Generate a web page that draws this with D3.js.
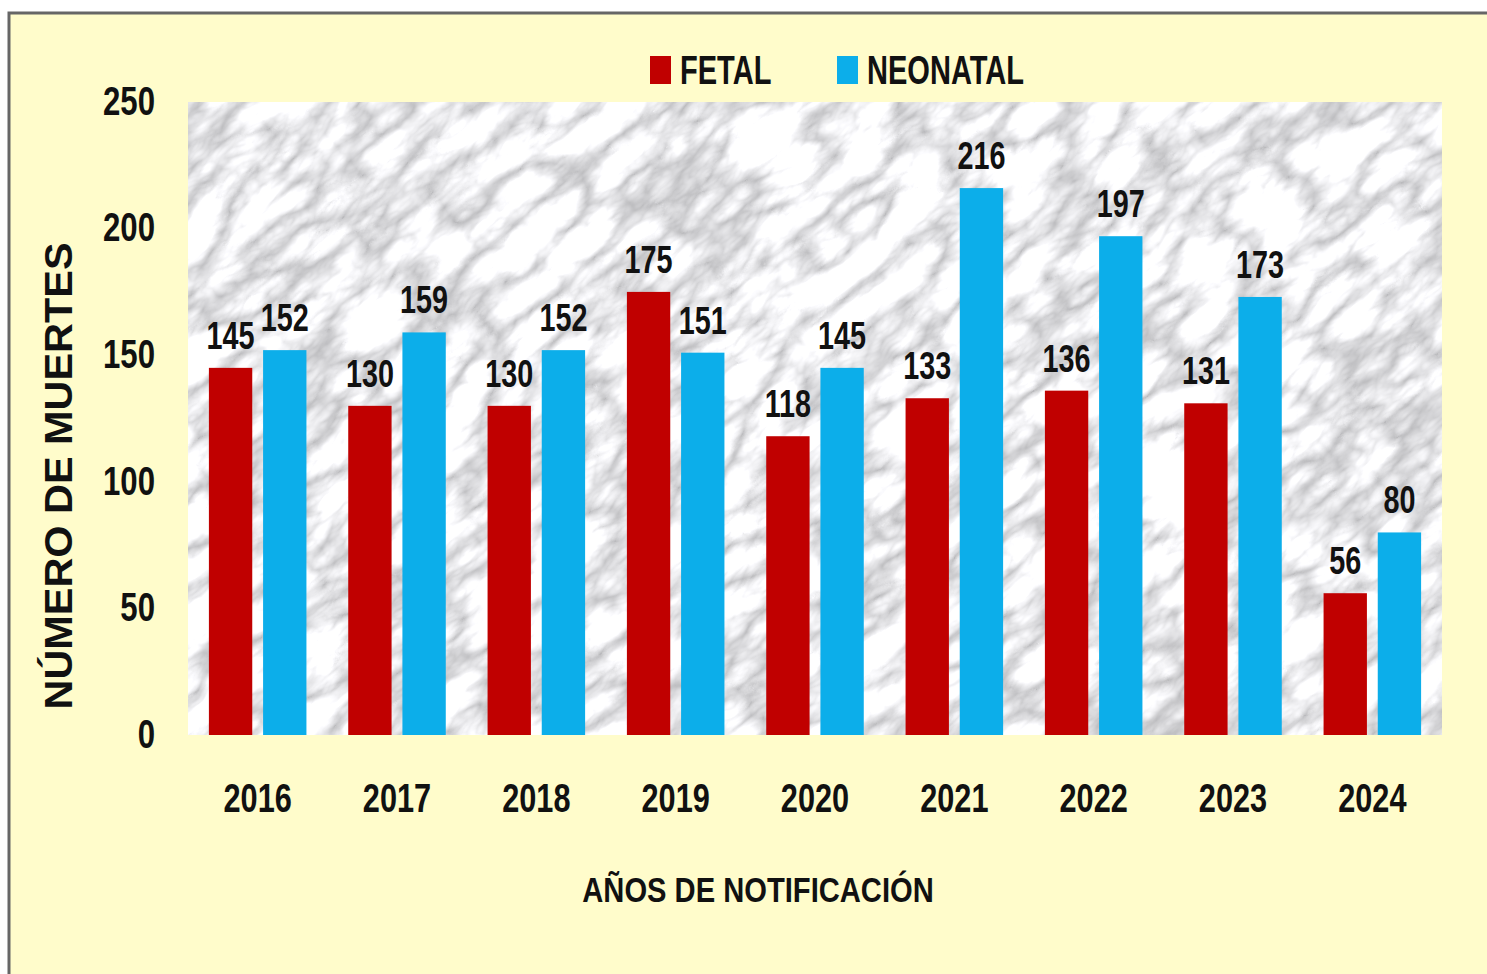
<!DOCTYPE html>
<html lang="es">
<head>
  <meta charset="UTF-8">
  <title>Muertes fetales y neonatales</title>
  <style>
    body { margin: 0; background: #fff; }
    text { font-family: "Liberation Sans", Arial, sans-serif; font-weight: bold; fill: #111; }
  </style>
</head>
<body>
  <div id="chart"></div>
  <script src="https://d3js.org/d3.v7.min.js"></script>
  <script>
    // datos
    const years = ["2016", "2017", "2018", "2019", "2020", "2021", "2022", "2023", "2024"];
    const series = ["FETAL", "NEONATAL"];
    const fetal = [145, 130, 130, 175, 118, 133, 136, 131, 56];
    const neonatal = [152, 159, 152, 151, 145, 216, 197, 173, 80];
    const yTicks = [0, 50, 100, 150, 200, 250];

    const width = 1487, height = 974;
    const plot = { left: 188, right: 1442, top: 102, bottom: 735 };
    const colors = { FETAL: "#C00000", NEONATAL: "#0CAEEA" };

    const svg = d3.select("#chart").append("svg")
      .attr("width", width)
      .attr("height", height);

    // fondo amarillo con borde
    svg.append("rect")
      .attr("x", 9).attr("y", 13)
      .attr("width", width + 20).attr("height", height + 20)
      .attr("fill", "#FFFCCB")
      .attr("stroke", "#666").attr("stroke-width", 3);

    // textura tipo marmol en el area del grafico
    const defs = svg.append("defs");
    const f = defs.append("filter").attr("id", "marble")
      .attr("x", 0).attr("y", 0).attr("width", 1).attr("height", 1)
      .attr("color-interpolation-filters", "sRGB");
    f.append("feTurbulence")
      .attr("type", "turbulence")
      .attr("baseFrequency", "0.012 0.026")
      .attr("numOctaves", 4)
      .attr("seed", 11)
      .attr("result", "t");
    f.append("feColorMatrix")
      .attr("type", "matrix")
      .attr("values", "0.65 0 0 0 0.73  0.65 0 0 0 0.73  0.65 0 0 0 0.74  0 0 0 0 1");

    defs.append("clipPath").attr("id", "plotclip")
      .append("rect")
      .attr("x", plot.left).attr("y", plot.top)
      .attr("width", plot.right - plot.left).attr("height", plot.bottom - plot.top);

    const cx = (plot.left + plot.right) / 2, cy = (plot.top + plot.bottom) / 2;
    svg.append("g").attr("clip-path", "url(#plotclip)")
      .append("rect")
      .attr("x", cx - 1000).attr("y", cy - 1000)
      .attr("width", 2000).attr("height", 2000)
      .attr("transform", `rotate(-40,${cx},${cy})`)
      .attr("filter", "url(#marble)");

    // escalas
    const x0 = d3.scaleBand().domain(years)
      .range([plot.left, plot.right])
      .paddingInner(0.3).paddingOuter(0.15);
    const x1 = d3.scaleBand().domain(series)
      .range([0, x0.bandwidth()])
      .paddingInner(0.2);
    const y = d3.scaleLinear().domain([0, 250]).range([plot.bottom, plot.top]);

    const rows = years.map((yr, i) => ({ year: yr, values: [
      { key: "FETAL", value: fetal[i] },
      { key: "NEONATAL", value: neonatal[i] }
    ]}));

    // barras
    const groups = svg.append("g").selectAll("g")
      .data(rows).enter().append("g")
      .attr("transform", d => `translate(${x0(d.year)},0)`);

    groups.selectAll("rect")
      .data(d => d.values).enter().append("rect")
      .attr("x", d => x1(d.key))
      .attr("y", d => y(d.value))
      .attr("width", x1.bandwidth())
      .attr("height", d => y(0) - y(d.value))
      .attr("fill", d => colors[d.key]);

    // etiquetas (letra estrecha: escala horizontal)
    groups.selectAll("text")
      .data(d => d.values).enter().append("text")
      .attr("transform", d => `translate(${x1(d.key) + x1.bandwidth() / 2},${y(d.value) - 19}) scale(0.8,1.06)`)
      .attr("text-anchor", "middle")
      .style("font-size", "36px")
      .text(d => d.value);

    // ejes
    const yAxis = svg.append("g")
      .attr("transform", `translate(${plot.left},0)`)
      .call(d3.axisLeft(y).tickValues(yTicks).tickSize(0).tickPadding(33));
    yAxis.select(".domain").remove();
    yAxis.selectAll("text")
      .attr("fill", "#111")
      .attr("x", -33 / 0.82)
      .attr("dy", "0.3em")
      .attr("transform", "scale(0.82,1.08)")
      .style("font-size", "38px");

    const xAxis = svg.append("g")
      .attr("transform", `translate(0,${plot.bottom})`)
      .call(d3.axisBottom(x0).tickSize(0).tickPadding(48));
    xAxis.select(".domain").remove();
    xAxis.selectAll("text")
      .attr("fill", "#111")
      .attr("y", 44)
      .attr("transform", "scale(0.83,1.1)")
      .style("font-size", "37px");

    // titulos
    svg.append("text")
      .attr("transform", "translate(758,902) scale(0.81,1)")
      .attr("text-anchor", "middle")
      .style("font-size", "36px")
      .text("AÑOS DE NOTIFICACIÓN");

    svg.append("text")
      .attr("transform", "translate(72,476) rotate(-90) scale(1.09,1)")
      .attr("text-anchor", "middle")
      .style("font-size", "38px")
      .text("NÚMERO DE MUERTES");

    // leyenda
    const legendX = [650, 837];
    const legend = svg.append("g").selectAll("g")
      .data(series).enter().append("g")
      .attr("transform", (d, i) => `translate(${legendX[i]},56)`);
    legend.append("rect")
      .attr("width", 21).attr("height", 28)
      .attr("fill", d => colors[d]);
    legend.append("text")
      .attr("transform", "translate(30,28) scale(0.83,1.15)")
      .style("font-size", "35px")
      .text(d => d);
  </script>
</body>
</html>
